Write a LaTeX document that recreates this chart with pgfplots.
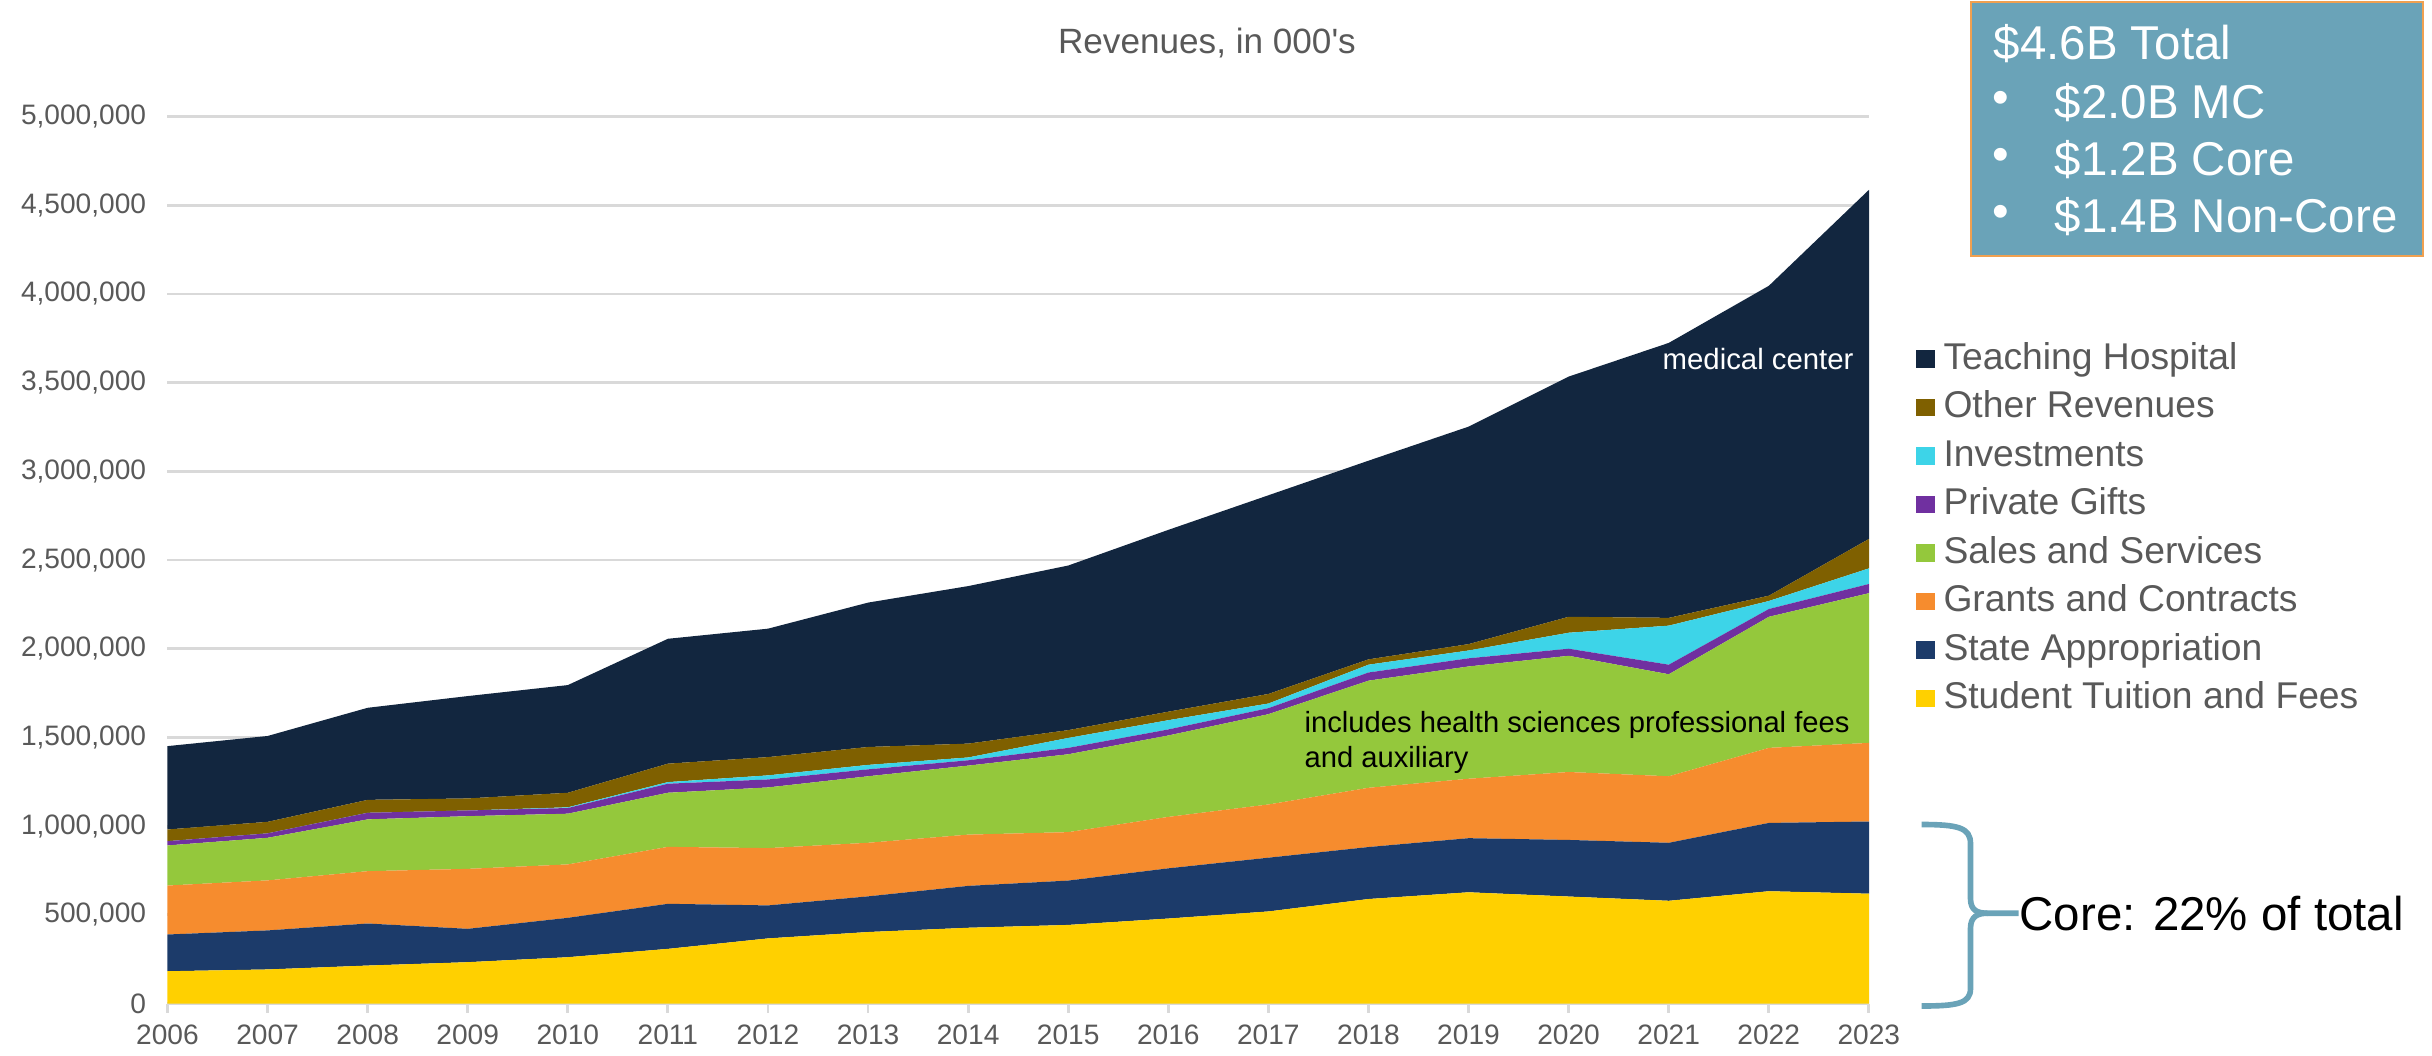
\documentclass[border=0pt]{standalone}
\usepackage{fontspec}
\setmainfont{Liberation Sans}
\usepackage{pgfplots}
\usepackage{pgfplotstable}
\pgfplotsset{compat=1.18}

\definecolor{hosp}{HTML}{12263F}
\definecolor{other}{HTML}{7F6000}
\definecolor{invest}{HTML}{3DD4E8}
\definecolor{gifts}{HTML}{7030A0}
\definecolor{sales}{HTML}{94C83C}
\definecolor{grants}{HTML}{F68C2E}
\definecolor{statec}{HTML}{1C3B6A}
\definecolor{tuition}{HTML}{FFD000}
\definecolor{boxblue}{HTML}{6AA3B8}
\definecolor{boxedge}{HTML}{F0A050}
\definecolor{gridc}{HTML}{D9D9D9}
\definecolor{tickgray}{HTML}{595959}

% revenues, in 000's
\pgfplotstableread{
year T S G SS PG I O H
2006 182000 207000 276000 226000 24000 0 66000 470000
2007 192000 220000 282000 240000 25000 0 65000 484000
2008 214000 237000 295000 292000 37000 0 73000 519000
2009 233000 188000 338000 297000 32000 0 68000 577000
2010 261000 222000 301000 286000 32000 4000 82000 607000
2011 308000 254000 321000 305000 51000 9000 104000 704000
2012 367000 186000 323000 342000 45000 23000 103000 724000
2013 403000 201000 302000 375000 39000 25000 101000 814000
2014 427000 236000 289000 389000 30000 16000 78000 888000
2015 443000 250000 273000 439000 36000 56000 44000 928000
2016 479000 283000 290000 459000 34000 52000 48000 1025000
2017 519000 303000 300000 509000 34000 26000 54000 1120000
2018 589000 293000 334000 604000 46000 44000 30000 1120000
2019 627000 305000 335000 633000 46000 44000 36000 1226000
2020 603000 319000 383000 655000 40000 90000 90000 1354000
2021 579000 327000 375000 575000 54000 220000 44000 1550000
2022 633000 385000 423000 739000 44000 45000 30000 1747000
2023 619000 407000 443000 844000 52000 88000 166000 1968000
}\revtable

\begin{document}
\begin{tikzpicture}
\path[use as bounding box] (-1.675,-0.515) rectangle (22.645,10.035);
\begin{axis}[
    scale only axis,
    width=17.015cm, height=8.87cm,
    at={(0,0)}, anchor=south west,
    xmin=2006, xmax=2023,
    ymin=0, ymax=5000000,
    stack plots=y,
    xtick={2006,...,2023},
    ytick distance=500000,
    scaled y ticks=false,
    axis x line*=bottom, axis y line*=left,
    y axis line style={draw=none},
    x axis line style={draw=gridc, line width=0.8pt},
    ytick style={draw=none},
    xtick style={draw=gridc, line width=0.8pt},
    tick align=outside,
    major tick length=0.09cm,
    ymajorgrids,
    grid style={gridc, line width=0.8pt},
    tick label style={font=\fontsize{8}{9}\selectfont, text=tickgray, /pgf/number format/assume math mode=true},
    x tick label style={/pgf/number format/1000 sep={}},
    y tick label style={/pgf/number format/.cd, fixed, 1000 sep={,}},
    title={Revenues, in 000\textquotesingle s},
    title style={at={(0.6109,1.0594)}, anchor=center, font=\fontsize{10}{12}\selectfont, text=tickgray},
    reverse legend,
    legend style={draw=none, fill=none, at={(1.0272,0.7545)}, anchor=north west,
        font=\fontsize{10.6}{12}\selectfont, text=tickgray, inner sep=0pt, row sep=0pt,
        nodes={text height=0.28cm, text depth=0.08cm, inner ysep=0.0625cm, inner xsep=0.09cm}},
    legend cell align=left,
    legend image code/.code={\fill[#1] (0cm,-0.0875cm) rectangle (0.185cm,0.0875cm);},
]
\addplot[fill=tuition, draw=none] table[x=year, y=T] {\revtable} \closedcycle;
\addlegendentry{Student Tuition and Fees}
\addplot[fill=statec, draw=none] table[x=year, y=S] {\revtable} \closedcycle;
\addlegendentry{State Appropriation}
\addplot[fill=grants, draw=none] table[x=year, y=G] {\revtable} \closedcycle;
\addlegendentry{Grants and Contracts}
\addplot[fill=sales, draw=none] table[x=year, y=SS] {\revtable} \closedcycle;
\addlegendentry{Sales and Services}
\addplot[fill=gifts, draw=none] table[x=year, y=PG] {\revtable} \closedcycle;
\addlegendentry{Private Gifts}
\addplot[fill=invest, draw=none] table[x=year, y=I] {\revtable} \closedcycle;
\addlegendentry{Investments}
\addplot[fill=other, draw=none] table[x=year, y=O] {\revtable} \closedcycle;
\addlegendentry{Other Revenues}
\addplot[fill=hosp, draw=none] table[x=year, y=H] {\revtable} \closedcycle;
\addlegendentry{Teaching Hospital}
\end{axis}

% annotations inside the plot
\node[anchor=west, white, font=\fontsize{8.35}{10}\selectfont, inner sep=0pt] at (14.945,6.448) {medical center};
\node[anchor=west, black, font=\fontsize{8.3}{10}\selectfont, inner sep=0pt] at (11.365,2.79) {includes health sciences professional fees};
\node[anchor=west, black, font=\fontsize{8.3}{10}\selectfont, inner sep=0pt] at (11.365,2.435) {and auxiliary};

% summary box
\draw[fill=boxblue, draw=boxedge, line width=0.8pt] (18.035,7.475) rectangle (22.555,10.015);
\begin{scope}[every node/.style={anchor=west, white, font=\fontsize{13.5}{15}\selectfont, inner sep=0pt}]
\node at (18.255,9.598) {\$4.6B Total};
\node[anchor=center] at (18.33,9.012) {•};
\node at (18.865,9.012) {\$2.0B MC};
\node[anchor=center] at (18.33,8.44) {•};
\node at (18.865,8.44) {\$1.2B Core};
\node[anchor=center] at (18.33,7.868) {•};
\node at (18.865,7.868) {\$1.4B Non-Core};
\end{scope}

% brace for core revenues
\begin{scope}[draw=boxblue, line width=1.6pt]
\draw (17.54,1.79) .. controls (17.9,1.79) and (18.03,1.76) .. (18.03,1.6) -- (18.03,1.05)
      .. controls (18.03,0.93) and (18.1,0.903) .. (18.2,0.903) -- (18.51,0.903);
\draw (18.2,0.903) .. controls (18.1,0.903) and (18.03,0.87) .. (18.03,0.75) -- (18.03,0.15)
      .. controls (18.03,0.0) and (17.9,-0.025) .. (17.54,-0.025);
\end{scope}
\node[anchor=west, black, font=\fontsize{13.5}{15}\selectfont, inner sep=0pt] at (18.514,0.903) {Core: 22\% of total};
\end{tikzpicture}
\end{document}
